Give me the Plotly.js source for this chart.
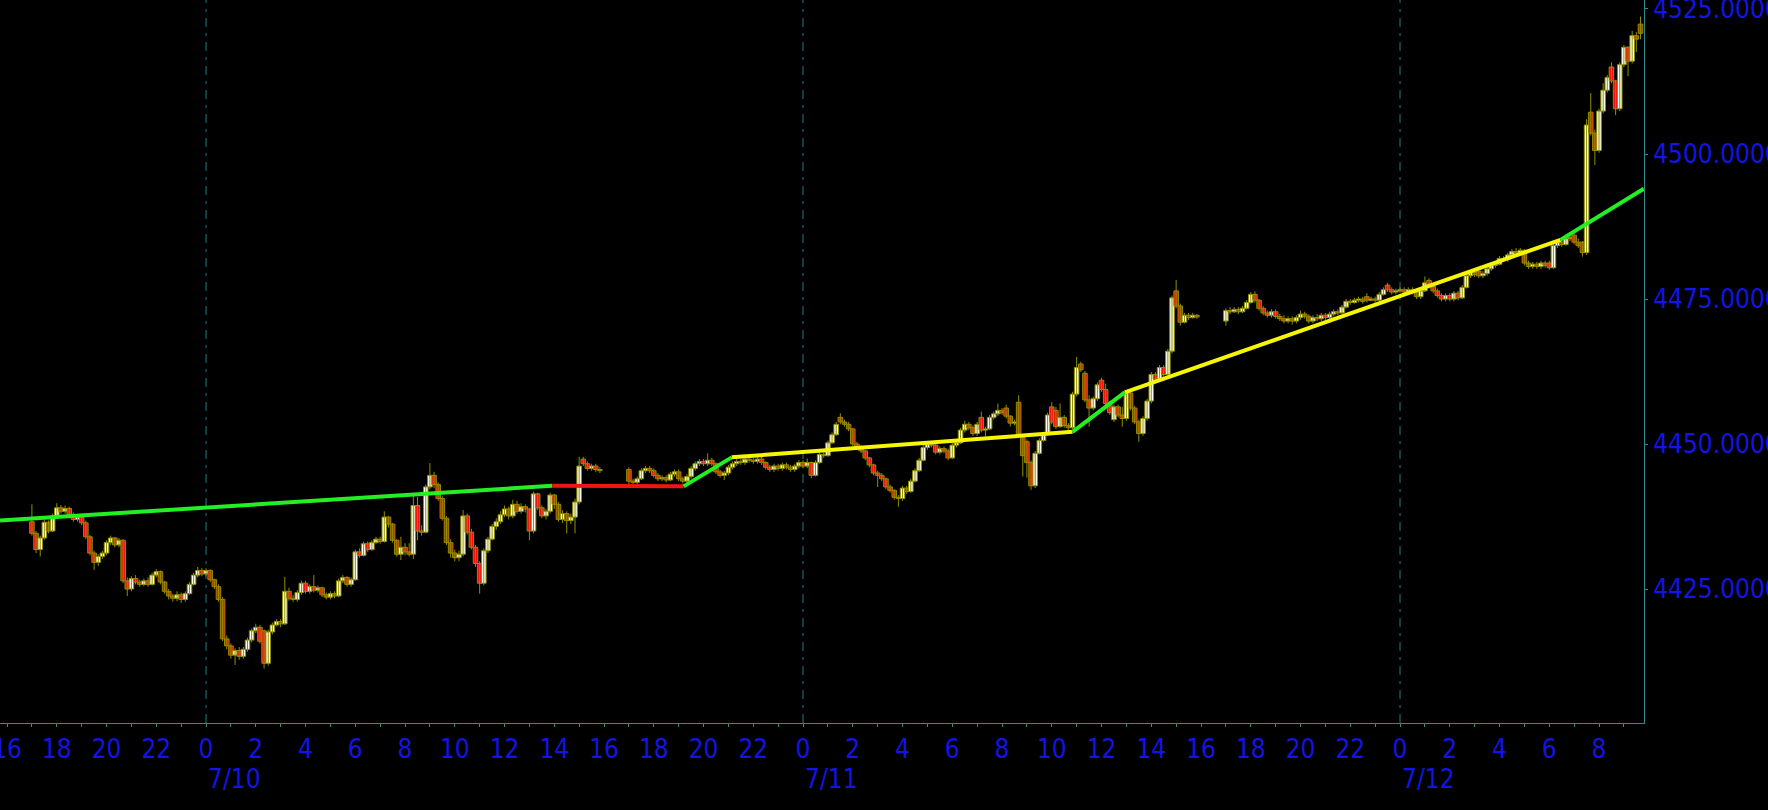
<!DOCTYPE html>
<html><head><meta charset="utf-8">
<script src="https://cdn.plot.ly/plotly-3.0.1.min.js"></script>
<style>html,body{margin:0;padding:0;background:#000;overflow:hidden;} #chart{width:1768px;height:810px;}</style>
</head><body><div id="chart"></div>
<script>
// ---- Data (ES futures, 10-minute bars, times in chart's local clock) ----
const sessionStarts = ['2023-07-09 17:00', '2023-07-10 17:00', '2023-07-11 17:00'];
const barMinutes = 10;

const open1 = [4436.6,4434.6,4431.8,4433.8,4436.5,4435.0,4437.6,4439.0,4438.4,4438.9,
4437.8,4437.0,4437.4,4436.4,4434.0,4431.2,4429.6,4430.6,4431.2,4433.0,
4433.8,4432.6,4433.4,4426.4,4425.0,4426.8,4426.2,4425.8,4426.4,4425.8,
4427.4,4428.0,4426.2,4424.6,4423.8,4423.4,4424.0,4423.2,4424.2,4425.8,
4427.4,4428.2,
4427.6,4428.2,4426.6,4425.4,4423.2,4416.4,4415.2,4413.6,4414.4,4413.4,
4414.6,4416.2,4417.8,4418.4,4417.8,4412.2,4417.6,4418.8,4419.4,4419.0,
4424.6,4423.4,4423.2,4424.4,4426.0,4424.6,4425.4,4424.8,4425.2,4424.0,
4423.6,4424.2,4423.8,4426.4,4427.0,4425.8,4426.6,4431.4,4430.8,4432.8,
4431.8,4433.0,4433.6,4433.2,4437.4,4436.2,4433.4,4431.0,4432.2,4431.4,
4431.0,4439.4,4435.0,4434.8,4442.6,4444.6,4443.0,4440.6,4437.2,4433.0,
4431.2,4430.4,4431.0,4437.6,4434.8,4432.2,4429.4,4426.0,4431.6,4433.6,
4435.8,4436.6,4437.8,4438.8,4437.6,4439.6,4438.4,4439.2,4438.8,4435.0,
4441.4,4439.0,4437.6,4438.4,4441.2,4439.6,4437.0,4438.0,4436.8,4437.4,
4440.0,4447.4,4446.6,4445.8,4446.2,4445.6];
const high1 = [4439.6,4435.0,4434.2,4437.0,4436.8,4438.0,4439.8,4439.5,4439.4,4439.2,
4438.2,4437.8,4437.8,4436.8,4434.3,4431.6,4431.0,4431.6,4433.4,4434.2,
4434.0,4433.8,4433.6,4427.0,4427.2,4427.4,4426.6,4426.8,4427.0,4427.8,
4428.4,4428.2,4426.4,4425.0,4424.2,4424.6,4424.4,4424.6,4426.2,4427.8,
4428.8,4428.6,
4428.6,4428.4,4426.8,4425.8,4423.6,4417.0,4415.6,4414.8,4415.0,4415.0,
4416.6,4418.2,4419.0,4418.8,4418.0,4418.0,4419.2,4419.8,4419.8,4427.1,
4425.2,4424.0,4424.8,4426.4,4426.4,4425.8,4427.4,4425.6,4425.4,4424.4,
4424.6,4424.6,4426.8,4427.4,4427.2,4427.0,4431.8,4432.0,4433.2,4433.2,
4433.4,4434.0,4434.0,4438.4,4437.6,4436.4,4433.6,4434.0,4432.9,4432.9,
4441.4,4440.9,4436.0,4443.0,4446.7,4445.2,4443.4,4441.0,4437.6,4433.6,
4431.8,4431.6,4438.6,4438.0,4435.4,4432.6,4429.8,4432.0,4434.0,4436.2,
4437.2,4438.4,4439.4,4439.2,4440.4,4440.2,4439.8,4439.6,4439.0,4441.8,
4441.6,4439.4,4438.8,4441.6,4441.4,4440.0,4438.6,4438.4,4438.0,4440.6,
4447.8,4447.8,4447.0,4446.6,4446.6,4446.0];
const low1 = [4434.2,4431.2,4430.6,4433.5,4434.6,4434.8,4437.3,4438.0,4438.0,4437.4,
4436.6,4436.6,4436.0,4433.6,4430.8,4428.3,4429.0,4430.2,4430.8,4432.6,
4432.2,4432.2,4426.0,4423.8,4424.6,4425.8,4425.4,4425.5,4425.4,4425.6,
4427.0,4425.8,4424.2,4423.2,4422.8,4422.9,4422.6,4422.8,4424.0,4425.6,
4427.0,4427.2,
4427.2,4426.2,4425.0,4422.8,4416.0,4414.6,4413.0,4411.9,4412.8,4413.0,
4414.2,4415.8,4417.4,4415.6,4411.3,4411.8,4417.2,4418.6,4418.4,4418.8,
4423.0,4422.8,4422.8,4424.0,4424.2,4424.2,4424.4,4424.4,4423.6,4423.2,
4423.2,4423.4,4423.6,4426.0,4425.4,4425.4,4426.4,4430.4,4430.6,4431.4,
4431.6,4432.8,4432.8,4433.0,4435.6,4433.0,4430.6,4430.0,4430.8,4430.6,
4430.2,4433.4,4434.2,4434.6,4442.2,4442.4,4440.2,4436.8,4432.6,4430.4,
4429.8,4429.8,4430.6,4434.4,4431.8,4428.8,4424.2,4425.6,4431.2,4433.4,
4435.2,4436.2,4437.4,4437.0,4437.2,4438.0,4438.0,4438.2,4433.4,4434.6,
4438.6,4437.2,4437.0,4438.0,4438.8,4436.6,4436.4,4434.6,4436.2,4434.6,
4439.6,4446.2,4445.4,4445.4,4445.2,4445.0];
const close1 = [4434.6,4431.8,4433.8,4436.5,4435.0,4437.6,4439.0,4438.4,4438.9,4437.8,
4437.0,4437.4,4436.4,4434.0,4431.2,4429.6,4430.6,4431.2,4433.0,4433.8,
4432.6,4433.4,4426.4,4425.0,4426.8,4426.2,4425.8,4426.4,4425.8,4427.4,
4428.0,4426.2,4424.6,4423.8,4423.4,4424.0,4423.2,4424.2,4425.8,4427.4,
4428.2,4427.6,
4428.2,4426.6,4425.4,4423.2,4416.4,4415.2,4413.6,4414.4,4413.4,4414.6,
4416.2,4417.8,4418.4,4416.0,4412.2,4417.6,4418.8,4419.4,4419.0,4424.6,
4423.4,4423.2,4424.4,4426.0,4424.6,4425.4,4424.8,4425.2,4424.0,4423.6,
4424.2,4423.8,4426.4,4427.0,4425.8,4426.6,4431.4,4430.8,4432.8,4431.8,
4433.0,4433.6,4433.2,4437.4,4436.2,4433.4,4431.0,4432.2,4431.4,4431.0,
4439.4,4435.0,4434.8,4442.6,4444.6,4443.0,4440.6,4437.2,4433.0,4431.2,
4430.4,4431.0,4437.6,4434.8,4432.2,4429.4,4426.0,4431.6,4433.6,4435.8,
4436.6,4437.8,4438.8,4437.6,4439.6,4438.4,4439.2,4438.8,4435.0,4441.4,
4439.0,4437.6,4438.4,4441.2,4439.6,4437.0,4438.0,4436.8,4437.4,4440.0,
4446.2,4446.6,4445.8,4446.2,4445.6,4445.4];

const open2 = [4445.6,4443.6,4443.4,4444.0,4445.4,4445.8,4445.4,4444.6,4444.0,4444.2,
4443.8,4444.8,4445.2,4444.0,4443.6,4444.4,4445.8,4446.6,4447.0,4446.6,
4447.2,4446.6,4445.2,4444.6,4445.0,4446.0,4446.6,4447.0,4446.8,4447.4,
4447.2,4447.0,4447.4,4446.8,4446.0,4445.6,4446.2,4445.8,4446.4,4446.0,
4445.6,4446.2,
4446.8,4446.2,4446.8,4444.6,4446.8,4448.2,4448.0,4450.2,4451.6,4454.6,
4453.8,4453.4,4452.6,4450.0,4449.4,4448.8,4447.6,4446.4,4445.0,4444.6,
4444.0,4442.6,4442.0,4440.8,4440.6,4442.4,4441.8,4443.6,4445.4,4447.2,
4449.4,4450.0,4449.8,4448.6,4449.2,4448.8,4447.6,4449.8,4450.2,4452.4,
4453.4,4452.8,4451.8,4454.6,4452.4,4452.6,4454.6,4455.2,4455.8,4456.2,
4454.8,4453.6,4457.2,4451.4,4450.4,4446.8,4442.8,4448.4,4450.6,4451.6,
4456.4,4455.8,4453.0,4454.6,4453.2,4452.8,4458.6,4463.8,4462.2,4457.6,
4456.2,4457.8,4461.0,4459.4,4457.0,4454.2,4456.4,4455.0,4454.4,4458.8,
4456.2,4453.8,4451.8,4454.4,4457.4,4462.0,4461.2,4463.2,4462.0,4466.0,
4476.4,4473.8,4471.0,4472.2,4471.8,4472.2];
const high2 = [4446.0,4444.0,4444.4,4445.8,4446.2,4446.2,4445.8,4445.0,4444.6,4444.6,
4445.2,4445.6,4445.6,4444.4,4444.8,4446.2,4447.0,4447.4,4447.4,4448.4,
4447.6,4446.8,4445.6,4445.4,4446.4,4447.0,4447.4,4447.4,4447.8,4447.8,
4447.6,4447.8,4447.8,4447.0,4446.4,4446.6,4446.6,4446.8,4446.8,4446.4,
4446.6,4447.2,
4447.2,4447.5,4447.0,4447.2,4448.6,4448.8,4450.6,4452.0,4453.8,4455.3,
4454.2,4453.8,4452.8,4450.4,4449.8,4449.0,4447.8,4446.6,4445.4,4445.0,
4444.2,4443.0,4442.2,4441.2,4442.8,4442.8,4444.0,4445.8,4447.6,4449.8,
4450.4,4450.4,4450.0,4449.6,4449.6,4449.2,4450.2,4450.6,4452.8,4454.0,
4453.8,4453.2,4453.8,4455.6,4453.0,4455.0,4455.6,4457.0,4456.2,4456.8,
4455.0,4454.2,4458.4,4451.6,4450.8,4447.2,4448.8,4451.0,4452.0,4455.4,
4457.2,4456.4,4457.0,4455.0,4453.6,4459.0,4465.0,4464.2,4462.6,4458.4,
4458.2,4460.6,4461.4,4460.4,4457.4,4456.8,4456.8,4456.4,4459.3,4459.0,
4456.6,4454.2,4454.8,4457.8,4462.4,4462.4,4463.6,4463.6,4466.4,4475.6,
4478.3,4474.2,4472.6,4472.6,4472.6,4472.4];
const low2 = [4442.6,4443.0,4443.0,4443.8,4445.0,4445.0,4444.2,4443.6,4443.6,4443.4,
4443.6,4444.4,4443.6,4443.2,4443.2,4444.0,4445.4,4446.2,4446.2,4446.2,
4446.2,4444.8,4444.2,4443.8,4444.6,4445.6,4446.2,4446.4,4446.4,4446.8,
4446.6,4446.6,4446.4,4445.6,4445.2,4445.2,4445.4,4445.4,4445.6,4445.2,
4445.2,4445.8,
4445.8,4445.8,4444.1,4444.4,4446.6,4447.6,4447.8,4450.0,4451.4,4453.4,
4453.0,4452.2,4449.6,4449.0,4448.4,4447.2,4446.0,4444.6,4442.6,4443.6,
4442.2,4441.6,4440.4,4439.2,4440.2,4441.4,4441.6,4443.4,4445.2,4447.0,
4449.0,4449.4,4448.2,4448.2,4448.4,4447.2,4447.4,4449.4,4450.0,4452.0,
4452.4,4451.4,4451.4,4452.0,4451.3,4452.4,4454.2,4454.8,4455.0,4454.4,
4453.0,4453.2,4451.0,4444.4,4444.2,4442.1,4442.4,4448.2,4450.4,4451.4,
4453.4,4452.6,4452.8,4452.8,4451.8,4452.6,4458.2,4462.4,4457.2,4453.0,
4455.8,4457.4,4459.0,4456.6,4455.0,4453.8,4454.6,4453.0,4454.0,4455.8,
4453.4,4450.4,4451.4,4454.0,4457.0,4460.8,4461.0,4461.6,4461.8,4465.6,
4473.4,4470.4,4470.8,4471.4,4471.6,4471.6];
const close2 = [4443.6,4443.4,4444.0,4445.4,4445.8,4445.4,4444.6,4444.0,4444.2,4443.8,
4444.8,4445.2,4444.0,4443.6,4444.4,4445.8,4446.6,4447.0,4446.6,4447.2,
4446.6,4445.2,4444.6,4445.0,4446.0,4446.6,4447.0,4446.8,4447.4,4447.2,
4447.0,4447.4,4446.8,4446.0,4445.6,4446.2,4445.8,4446.4,4446.0,4445.6,
4446.2,4446.8,
4446.2,4446.8,4444.6,4446.8,4448.2,4448.0,4450.2,4451.6,4453.4,4453.8,
4453.4,4452.6,4450.0,4449.4,4448.8,4447.6,4446.4,4445.0,4444.6,4444.0,
4442.6,4442.0,4440.8,4440.6,4442.4,4441.8,4443.6,4445.4,4447.2,4449.4,
4450.0,4449.8,4448.6,4449.2,4448.8,4447.6,4449.8,4450.2,4452.4,4453.4,
4452.8,4451.8,4453.4,4452.4,4452.6,4454.6,4455.2,4455.8,4455.4,4454.8,
4453.6,4453.8,4451.4,4448.0,4446.8,4442.8,4448.4,4450.6,4451.6,4455.0,
4453.8,4453.0,4454.6,4453.2,4452.8,4458.6,4463.2,4462.8,4457.6,4456.2,
4457.8,4460.2,4459.4,4457.0,4455.4,4456.4,4455.0,4454.4,4458.8,4456.2,
4453.8,4451.8,4454.4,4457.4,4462.0,4461.2,4463.2,4462.0,4466.0,4475.2,
4473.8,4471.0,4472.2,4471.8,4472.2,4471.9];

const open3 = [4471.2,4473.0,4472.8,4473.2,4472.8,4473.4,4474.4,4475.8,4474.8,4473.4,
4472.6,4472.2,4472.8,4472.0,4471.6,4471.2,4471.6,4471.2,4471.8,4472.4,
4472.0,4471.2,4471.8,4471.6,4472.2,4471.8,4472.4,4472.8,4472.6,4473.6,
4474.6,4474.4,4474.8,4475.0,4475.4,4474.8,4475.0,4474.8,4475.8,4477.4,
4476.6,4476.2,
4476.4,4476.6,4476.2,4476.6,4476.2,4475.4,4476.4,4478.2,4477.2,4476.4,
4475.6,4475.0,4475.6,4475.0,4476.0,4475.2,4477.0,4479.0,4479.6,4479.8,
4479.0,4479.4,4480.2,4480.8,4481.0,4482.0,4481.8,4482.6,4483.2,4483.0,
4483.4,4481.2,4480.6,4481.0,4480.6,4481.2,4481.2,4480.4,4484.2,4484.8,
4484.4,4485.4,4486.0,4484.8,4484.8,4483.0,4507.2,4503.6,4500.6,4507.4,
4511.0,4515.0,4512.6,4507.8,4515.4,4518.4,4516.0,4520.4,4522.4];
const high3 = [4473.4,4473.6,4473.6,4473.6,4473.8,4474.8,4476.2,4476.3,4475.0,4473.8,
4473.0,4473.2,4473.2,4472.4,4472.2,4472.0,4472.0,4472.2,4473.0,4472.8,
4472.4,4472.2,4472.4,4472.6,4472.6,4472.8,4473.2,4473.2,4474.0,4475.0,
4475.0,4475.2,4475.4,4475.4,4476.0,4475.4,4475.4,4476.2,4477.0,4477.8,
4477.0,4476.8,
4477.0,4477.0,4477.0,4477.0,4476.6,4476.8,4478.9,4478.6,4477.6,4476.8,
4476.0,4476.0,4476.0,4476.4,4476.4,4477.4,4479.4,4480.0,4480.0,4480.2,
4479.8,4480.6,4481.2,4481.4,4482.4,4482.4,4483.0,4483.6,4483.8,4483.8,
4483.6,4481.6,4481.4,4481.4,4481.6,4481.6,4481.6,4484.6,4485.2,4485.2,
4485.8,4486.0,4486.4,4485.4,4485.0,4506.0,4510.5,4504.2,4507.8,4512.2,
4513.6,4515.8,4512.8,4515.8,4518.8,4518.6,4521.2,4521.0,4523.7];
const low3 = [4470.4,4472.4,4472.6,4472.4,4472.6,4473.2,4474.2,4474.4,4473.0,4472.2,
4471.8,4471.8,4471.6,4471.2,4470.8,4470.8,4470.6,4470.8,4471.4,4471.6,
4470.8,4470.8,4471.2,4471.2,4471.4,4471.4,4472.0,4472.2,4472.4,4473.4,
4474.0,4474.2,4474.4,4474.2,4474.4,4474.6,4474.4,4474.6,4475.6,4476.2,
4475.8,4475.8,
4476.0,4475.8,4475.8,4475.8,4475.0,4475.0,4476.2,4476.8,4476.0,4475.2,
4474.6,4474.6,4474.6,4474.6,4474.8,4475.0,4476.8,4478.6,4478.8,4478.6,
4478.6,4479.0,4479.8,4480.4,4480.8,4481.4,4481.4,4482.2,4482.6,4482.8,
4480.8,4480.2,4480.2,4480.2,4480.2,4480.4,4480.0,4480.2,4483.8,4484.0,
4484.2,4485.0,4484.4,4483.8,4482.3,4482.6,4503.2,4498.1,4500.2,4507.0,
4510.6,4512.2,4506.7,4507.4,4515.0,4513.4,4515.6,4517.6,4519.8];
const close3 = [4473.0,4472.8,4473.2,4472.8,4473.4,4474.4,4475.8,4474.8,4473.4,4472.6,
4472.2,4472.8,4472.0,4471.6,4471.2,4471.6,4471.2,4471.8,4472.4,4472.0,
4471.2,4471.8,4471.6,4472.2,4471.8,4472.4,4472.8,4472.6,4473.6,4474.6,
4474.4,4474.8,4475.0,4474.6,4474.8,4475.0,4474.8,4475.8,4476.6,4476.6,
4476.2,4476.4,
4476.6,4476.2,4476.6,4476.2,4475.4,4476.4,4477.8,4477.2,4476.4,4475.6,
4475.0,4475.6,4475.0,4476.0,4475.2,4477.0,4479.0,4479.6,4479.2,4479.0,
4479.4,4480.2,4480.8,4481.0,4482.0,4481.8,4482.6,4483.2,4483.0,4483.4,
4481.2,4480.6,4481.0,4480.6,4481.2,4480.8,4480.4,4484.2,4484.8,4484.4,
4485.4,4485.6,4484.8,4484.2,4483.0,4505.0,4503.6,4500.6,4507.4,4511.0,
4513.2,4512.6,4507.8,4515.4,4518.4,4516.0,4520.4,4519.8,4520.8];

// Trend-line indicator: vertices and the colour of each segment
const trendTimes  = ['2023-07-09 15:43','2023-07-10 13:55','2023-07-10 19:12','2023-07-10 21:08',
                     '2023-07-11 10:50','2023-07-11 12:56','2023-07-12 06:27','2023-07-12 09:48'];
const trendValues = [4436.8, 4442.8, 4442.7, 4447.7, 4452.1, 4458.9, 4485.2, 4494.0];
const trendColors = ['#22f022','#f01414','#22f022','#f6f600','#22f022','#f6f600','#22f022'];

// Axis values
const priceTicks = [4425, 4450, 4475, 4500, 4525];
const dayStarts  = ['2023-07-10 00:00', '2023-07-11 00:00', '2023-07-12 00:00'];
const dayLabels  = ['7/10', '7/11', '7/12'];
const xRange = ['2023-07-09 15:43', '2023-07-12 09:48:30'];
const yRange = [4401.9, 4526.55];

// ---- Build ----
function addMinutes(s, m) {
  const d = new Date(s.replace(' ', 'T') + ':00Z');
  d.setTime(d.getTime() + m * 60000);
  return d.toISOString().slice(0, 16).replace('T', ' ');
}
const sessions = [[open1, high1, low1, close1], [open2, high2, low2, close2], [open3, high3, low3, close3]];
const X = [], O = [], H = [], L = [], C = [];
sessions.forEach((s, k) => {
  const n = Math.min(s[0].length, s[1].length, s[2].length, s[3].length);
  for (let i = 0; i < n; i++) {
    X.push(addMinutes(sessionStarts[k], i * barMinutes));
    O.push(s[0][i]); H.push(s[1][i]); L.push(s[2][i]); C.push(s[3][i]);
  }
});

const FONT = '"DejaVu Sans Condensed", "DejaVu Sans", sans-serif';
const BLUE = '#1414e4';
const TEAL = '#2e8c8c';
const OLIVE = '#8f8f00';
const UP_FILL = '#fffff2';
const DOWN_FILL = '#f51010';

// candles: wicks (high-low) + bodies (open-close)
const wickX = [], wickY = [], bodyBase = [], bodyLen = [], bodyColor = [];
for (let i = 0; i < X.length; i++) {
  wickX.push(X[i], X[i], null);
  wickY.push(L[i], H[i], null);
  bodyBase.push(Math.min(O[i], C[i]));
  bodyLen.push(Math.max(Math.abs(C[i] - O[i]), 0.1));
  bodyColor.push(C[i] >= O[i] ? UP_FILL : DOWN_FILL);
}

const traces = [
  {type: 'scatter', mode: 'lines', x: wickX, y: wickY, connectgaps: false,
   line: {color: OLIVE, width: 1}, hoverinfo: 'skip', showlegend: false},
  {type: 'bar', x: X, y: bodyLen, base: bodyBase, width: 11 * 60000,
   marker: {color: bodyColor, line: {color: OLIVE, width: 1}},
   hoverinfo: 'skip', showlegend: false}
];
for (let i = 0; i < trendColors.length; i++) {
  traces.push({
    type: 'scatter', mode: 'lines',
    x: [trendTimes[i], trendTimes[i + 1]], y: [trendValues[i], trendValues[i + 1]],
    line: {color: trendColors[i], width: 4}, hoverinfo: 'skip', showlegend: false
  });
}

const tickFont = {family: FONT, size: 26, color: BLUE};
const layout = {
  width: 1768, height: 810,
  margin: {l: 0, r: 124, t: 0, b: 87, pad: 0},
  paper_bgcolor: '#000000', plot_bgcolor: '#000000',
  showlegend: false, barmode: 'overlay',
  xaxis: {
    type: 'date', range: xRange, showgrid: false, zeroline: false,
    showline: true, linecolor: TEAL, linewidth: 1,
    tickmode: 'linear', tick0: '2023-07-10 00:00', dtick: 7200000, tickformat: '%-H',
    ticks: 'outside', ticklen: 3, tickcolor: TEAL, tickwidth: 1,
    minor: {dtick: 3600000, tick0: '2023-07-10 00:00', ticks: 'outside', ticklen: 3, tickcolor: TEAL, tickwidth: 1, showgrid: false},
    tickfont: tickFont, ticklabeloverflow: 'allow', fixedrange: true
  },
  yaxis: {
    side: 'right', range: yRange, showgrid: false, zeroline: false,
    showline: true, linecolor: TEAL, linewidth: 1,
    tickmode: 'array', tickvals: priceTicks, ticktext: priceTicks.map(v => v.toFixed(4)),
    ticks: 'outside', ticklen: 3, tickcolor: TEAL, tickwidth: 1,
    tickfont: tickFont, ticklabeloverflow: 'allow', fixedrange: true
  },
  shapes: dayStarts.map(d => ({
    type: 'line', xref: 'x', yref: 'paper', x0: d, x1: d, y0: 0, y1: 1, layer: 'below',
    line: {color: '#1f7f7f', width: 1, dash: '9px,6px,3px,6px'}
  })),
  annotations: dayLabels.map((t, i) => ({
    xref: 'x', yref: 'paper', x: dayStarts[i], y: 0, xanchor: 'left', yanchor: 'top',
    yshift: -39, text: t, showarrow: false, font: tickFont
  }))
};

Plotly.newPlot('chart', traces, layout, {displayModeBar: false, staticPlot: true});
</script>
</body></html>
